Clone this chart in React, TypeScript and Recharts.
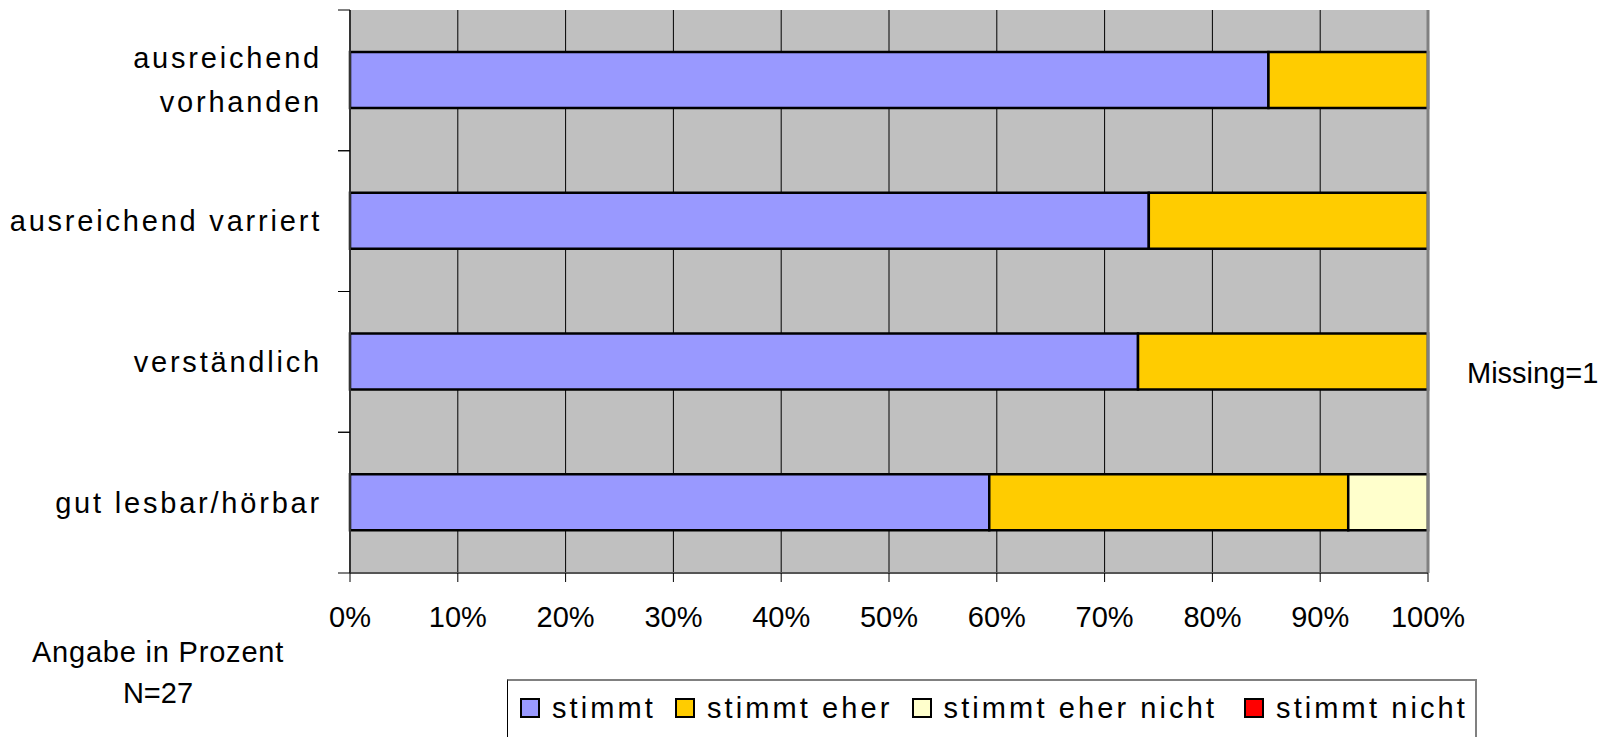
import { Bar, BarChart, CartesianGrid, Legend, ReferenceLine, XAxis, YAxis } from "recharts";

const categories = ["ausreichend\nvorhanden", "ausreichend varriert", "verständlich", "gut lesbar/hörbar"];
const stimmt = [85.2, 74.1, 73.1, 59.3];
const stimmtEher = [14.8, 25.9, 26.9, 33.3];
const stimmtEherNicht = [0, 0, 0, 7.4];
const stimmtNicht = [0, 0, 0, 0];
const xTicks = [0, 10, 20, 30, 40, 50, 60, 70, 80, 90, 100];

const data = categories.map((name, i) => ({
  name,
  stimmt: stimmt[i],
  eher: stimmtEher[i],
  eherNicht: stimmtEherNicht[i],
  nicht: stimmtNicht[i],
}));

const font = "'Liberation Sans', Arial, sans-serif";
const W = 1615;
const H = 737;
const PLOT = { left: 350, right: 1428, top: 10, bottom: 573 };

function CategoryTick({ y, payload }: any) {
  const lines = String(payload.value).split("\n");
  const band = (PLOT.bottom - PLOT.top) / categories.length;
  const lineH = 44;
  const first = y + 10 - ((lines.length - 1) * lineH) / 2;
  return (
    <g>
      <line x1={PLOT.left - 12} x2={PLOT.left} y1={y - band / 2} y2={y - band / 2} stroke="#000" />
      <line x1={PLOT.left - 12} x2={PLOT.left} y1={y + band / 2} y2={y + band / 2} stroke="#000" />
      <text textAnchor="end" fontSize={29} letterSpacing={2.8} fill="#000" fontFamily={font}>
        {lines.map((l, i) => (
          <tspan key={i} x={322} y={first + i * lineH}>
            {l}
          </tspan>
        ))}
      </text>
    </g>
  );
}

function LegendBox({ payload }: any) {
  return (
    <div
      style={{
        boxSizing: "border-box",
        width: 970,
        height: 64,
        borderLeft: "1px solid #000",
        borderBottom: "1px solid #000",
        borderTop: "2px solid #808080",
        borderRight: "2px solid #808080",
        background: "#fff",
        display: "flex",
        alignItems: "center",
        paddingLeft: 12,
        paddingBottom: 8,
        gap: 19,
        fontFamily: font,
        fontSize: 29,
        letterSpacing: 3.1,
        color: "#000",
        whiteSpace: "nowrap",
      }}
    >
      {(payload || []).map((p: any, i: number) => (
        <div
          key={p.value}
          style={{ display: "flex", alignItems: "center", gap: 12, flexShrink: 0, marginLeft: i === 3 ? 8 : 0 }}
        >
          <span
            style={{
              display: "inline-block",
              width: 20,
              height: 20,
              flexShrink: 0,
              boxSizing: "border-box",
              border: "2px solid #000",
              background: p.color,
            }}
          />
          <span style={{ lineHeight: "30px", whiteSpace: "nowrap" }}>{p.value}</span>
        </div>
      ))}
    </div>
  );
}

export default function App() {
  return (
    <div style={{ position: "absolute", left: 0, top: 0, background: "#fff" }}>
      <BarChart
        width={W}
        height={H}
        data={data}
        layout="vertical"
        margin={{ top: PLOT.top, right: W - PLOT.right, left: 0, bottom: H - PLOT.bottom - 60 }}
      >
        <CartesianGrid horizontal={false} fill="#C0C0C0" fillOpacity={1} stroke="#000" />
        <XAxis
          type="number"
          domain={[0, 100]}
          ticks={xTicks}
          tickFormatter={(v) => `${v}%`}
          height={60}
          tickSize={9}
          tickMargin={24}
          axisLine={{ stroke: "#555", strokeWidth: 2 }}
          tickLine={{ stroke: "#000" }}
          tick={{ fill: "#000", fontSize: 29, fontFamily: font }}
        />
        <YAxis
          type="category"
          dataKey="name"
          width={PLOT.left}
          axisLine={{ stroke: "#333", strokeWidth: 2 }}
          tickLine={false}
          tick={<CategoryTick />}
          interval={0}
        />
        <ReferenceLine x={100} stroke="#808080" strokeWidth={3} />
        <Bar dataKey="stimmt" name="stimmt" stackId="a" fill="#9999FF" stroke="#000" strokeWidth={2.5} barSize={56} isAnimationActive={false} />
        <Bar dataKey="eher" name="stimmt eher" stackId="a" fill="#FFCC00" stroke="#000" strokeWidth={2.5} barSize={56} isAnimationActive={false} />
        <Bar dataKey="eherNicht" name="stimmt eher nicht" stackId="a" fill="#FFFFCC" stroke="#000" strokeWidth={2.5} barSize={56} isAnimationActive={false} />
        <Bar dataKey="nicht" name="stimmt nicht" stackId="a" fill="#FF0000" stroke="#000" strokeWidth={2.5} barSize={56} isAnimationActive={false} />
        <Legend
          verticalAlign="middle"
          align="center"
          content={<LegendBox />}
          wrapperStyle={{ left: 507, top: 679, width: 970, height: 64 }}
        />
        <text x={1467} y={383} fontSize={29} fontFamily={font} fill="#000">
          Missing=1
        </text>
        <text x={158} y={662} fontSize={29} letterSpacing={0.8} textAnchor="middle" fontFamily={font} fill="#000">
          Angabe in Prozent
        </text>
        <text x={158} y={703} fontSize={29} textAnchor="middle" fontFamily={font} fill="#000">
          N=27
        </text>
      </BarChart>
    </div>
  );
}
